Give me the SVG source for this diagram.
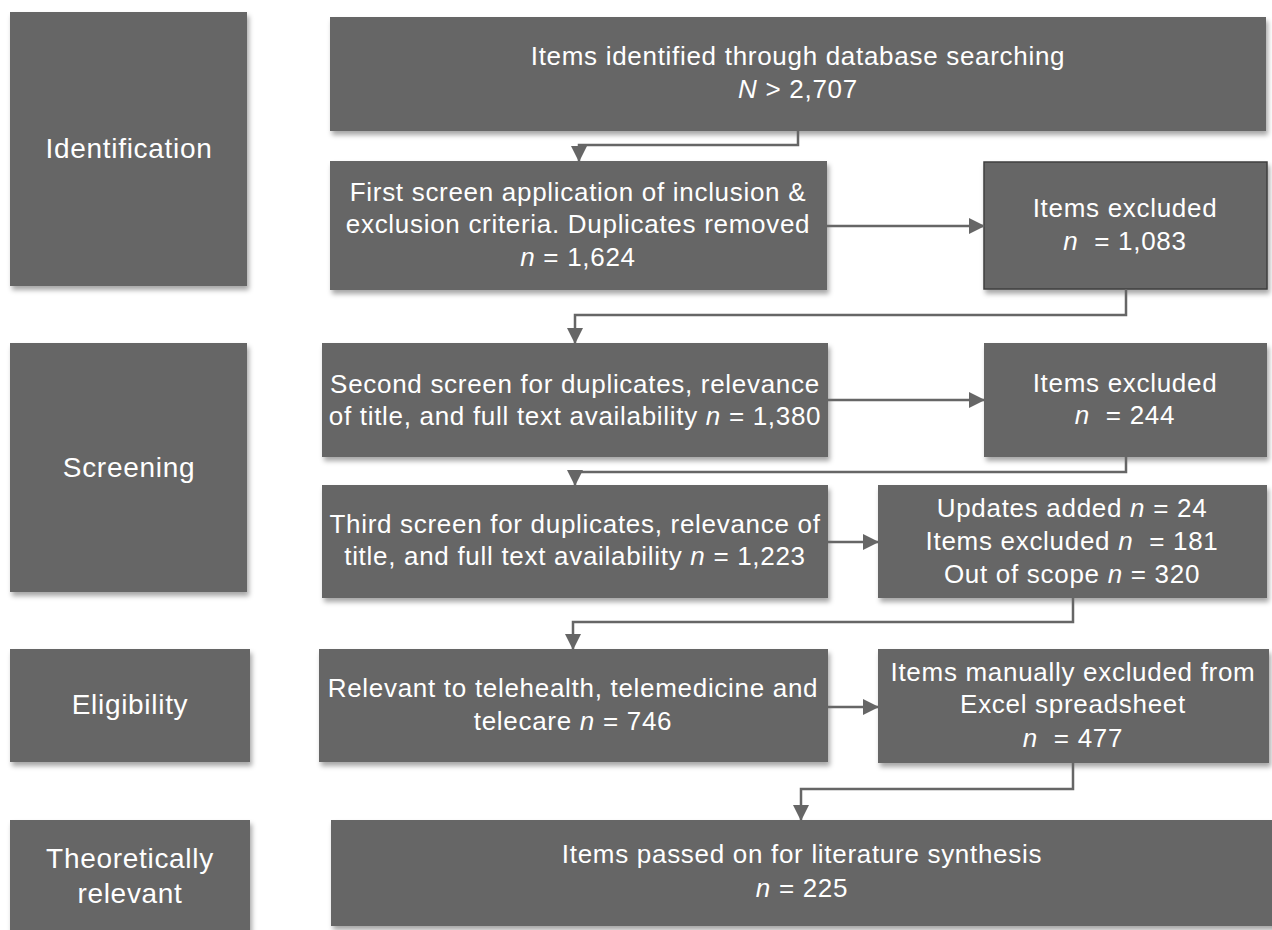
<svg xmlns="http://www.w3.org/2000/svg" width="1272" height="930" viewBox="0 0 1272 930">
  <defs>
    <filter id="shadow" x="-10%" y="-10%" width="130%" height="140%">
      <feDropShadow dx="2" dy="4" stdDeviation="2.5" flood-color="#000" flood-opacity="0.35"/>
    </filter>
    <marker id="arrow" markerUnits="userSpaceOnUse" markerWidth="16" markerHeight="16" viewBox="0 0 16 16" refX="15" refY="8" orient="auto">
      <path d="M0,0 L16,8 L0,16 Z" fill="#666666"/>
    </marker>
  </defs>
  <style>
    .box { fill: #666666; filter: url(#shadow); }
    .edge { stroke: #3f3f3f; stroke-width: 1.5; }
    .lbl { font-family: "Liberation Sans", Arial, sans-serif; font-size: 26px; letter-spacing: 0.7px; fill: #ffffff; text-anchor: middle; }
    .stage { font-size: 28px; }
    .it { font-style: italic; }
    .conn { fill: none; stroke: #666666; stroke-width: 2.5; marker-end: url(#arrow); }
  </style>
  <rect width="1272" height="930" fill="#ffffff"/>

  <!-- stage labels -->
  <g id="stage-identification">
    <rect class="box" x="10" y="12" width="237" height="274"/>
    <text class="lbl stage" x="129" y="158">Identification</text>
  </g>
  <g id="stage-screening">
    <rect class="box" x="10" y="343" width="237" height="249"/>
    <text class="lbl stage" x="129" y="477">Screening</text>
  </g>
  <g id="stage-eligibility">
    <rect class="box" x="10" y="649" width="240" height="113"/>
    <text class="lbl stage" x="130" y="714">Eligibility</text>
  </g>
  <g id="stage-theoretical">
    <rect class="box" x="10" y="820" width="240" height="120"/>
    <text class="lbl stage" x="130" y="868">Theoretically</text>
    <text class="lbl stage" x="130" y="903">relevant</text>
  </g>

  <!-- flow boxes -->
  <g id="identified">
    <rect class="box" x="330" y="17" width="936" height="114"/>
    <text class="lbl" x="798" y="65">Items identified through database searching</text>
    <text class="lbl" x="798" y="98"><tspan class="it">N</tspan> &gt; 2,707</text>
  </g>
  <g id="first-screen">
    <rect class="box" x="330" y="161" width="497" height="129"/>
    <text class="lbl" x="578" y="201">First screen application of inclusion &amp;</text>
    <text class="lbl" x="578" y="233">exclusion criteria. Duplicates removed</text>
    <text class="lbl" x="578" y="266"><tspan class="it">n</tspan> = 1,624</text>
  </g>
  <g id="excluded-1">
    <rect class="box edge" x="984" y="162" width="283" height="127"/>
    <text class="lbl" x="1125" y="217">Items excluded</text>
    <text class="lbl" x="1125" y="250"><tspan class="it">n</tspan>&#160; = 1,083</text>
  </g>
  <g id="second-screen">
    <rect class="box" x="322" y="343" width="506" height="114"/>
    <text class="lbl" x="575" y="393">Second screen for duplicates, relevance</text>
    <text class="lbl" x="575" y="425">of title, and full text availability <tspan class="it">n</tspan> = 1,380</text>
  </g>
  <g id="excluded-2">
    <rect class="box" x="984" y="343" width="283" height="114"/>
    <text class="lbl" x="1125" y="392">Items excluded</text>
    <text class="lbl" x="1125" y="424"><tspan class="it">n</tspan>&#160; = 244</text>
  </g>
  <g id="third-screen">
    <rect class="box" x="322" y="485" width="506" height="113"/>
    <text class="lbl" x="575" y="533">Third screen for duplicates, relevance of</text>
    <text class="lbl" x="575" y="565">title, and full text availability <tspan class="it">n</tspan> = 1,223</text>
  </g>
  <g id="updates">
    <rect class="box" x="878" y="485" width="389" height="113"/>
    <text class="lbl" x="1072" y="517">Updates added <tspan class="it">n</tspan> = 24</text>
    <text class="lbl" x="1072" y="550">Items excluded <tspan class="it">n</tspan>&#160; = 181</text>
    <text class="lbl" x="1072" y="583">Out of scope <tspan class="it">n</tspan> = 320</text>
  </g>
  <g id="relevant">
    <rect class="box" x="319" y="649" width="509" height="113"/>
    <text class="lbl" x="573" y="697">Relevant to telehealth, telemedicine and</text>
    <text class="lbl" x="573" y="730">telecare <tspan class="it">n</tspan> = 746</text>
  </g>
  <g id="manually-excluded">
    <rect class="box" x="878" y="649" width="391" height="114"/>
    <text class="lbl" x="1073" y="681">Items manually excluded from</text>
    <text class="lbl" x="1073" y="713">Excel spreadsheet</text>
    <text class="lbl" x="1073" y="747"><tspan class="it">n</tspan>&#160; = 477</text>
  </g>
  <g id="synthesis">
    <rect class="box" x="331" y="820" width="950" height="106"/>
    <text class="lbl" x="802" y="863">Items passed on for literature synthesis</text>
    <text class="lbl" x="802" y="897"><tspan class="it">n</tspan> = 225</text>
  </g>

  <!-- connectors -->
  <g id="connectors">
    <path class="conn" d="M798,131 V145 H579 V161"/>
    <path class="conn" d="M827,226 H984"/>
    <path class="conn" d="M1126,289 V315 H575 V343"/>
    <path class="conn" d="M828,400 H984"/>
    <path class="conn" d="M1126,457 V472 H575 V485"/>
    <path class="conn" d="M828,542 H878"/>
    <path class="conn" d="M1073,598 V622 H573 V649"/>
    <path class="conn" d="M828,707 H878"/>
    <path class="conn" d="M1073,763 V789 H801 V820"/>
  </g>
</svg>
